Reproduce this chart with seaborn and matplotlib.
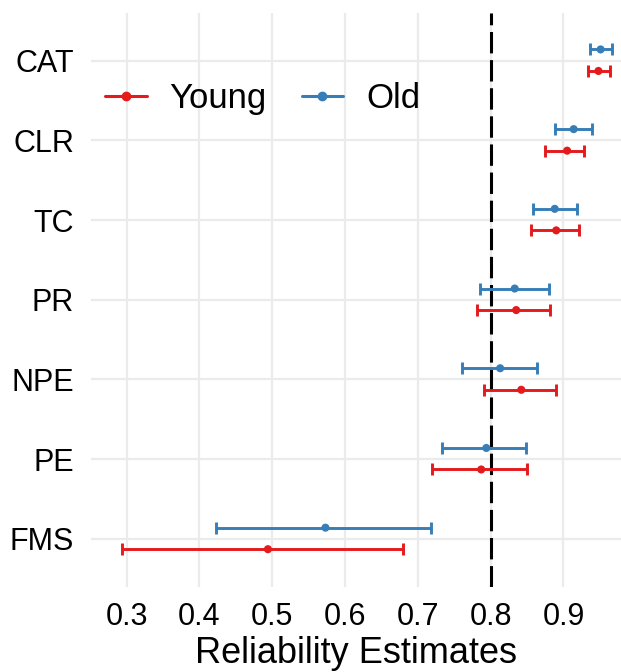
import matplotlib
matplotlib.use("Agg")
import matplotlib.pyplot as plt
from matplotlib.lines import Line2D
import seaborn as sns
import pandas as pd

categories = ["CAT", "CLR", "TC", "PR", "NPE", "PE", "FMS"]

young_est = [0.948, 0.905, 0.890, 0.835, 0.842, 0.787, 0.494]
young_low = [0.933, 0.875, 0.855, 0.781, 0.791, 0.720, 0.294]
young_high = [0.964, 0.928, 0.921, 0.881, 0.890, 0.850, 0.679]

old_est = [0.951, 0.914, 0.888, 0.833, 0.813, 0.794, 0.573]
old_low = [0.936, 0.889, 0.858, 0.785, 0.761, 0.733, 0.423]
old_high = [0.966, 0.939, 0.919, 0.880, 0.864, 0.848, 0.718]

groups = ["Young", "Old"]
threshold = 0.8
x_ticks = [0.3, 0.4, 0.5, 0.6, 0.7, 0.8, 0.9]

colors = {"Young": "#E41A1C", "Old": "#377EB8"}
offsets = {"Young": 0.13, "Old": -0.14}

rows = []
for g, est, lo, hi in [("Young", young_est, young_low, young_high),
                       ("Old", old_est, old_low, old_high)]:
    for i, c in enumerate(categories):
        rows.append({"measure": c, "group": g, "est": est[i], "low": lo[i],
                     "high": hi[i], "ypos": i + offsets[g]})
df = pd.DataFrame(rows)

sns.set_theme(style="whitegrid")
plt.rcParams["font.family"] = ["Liberation Sans", "DejaVu Sans"]

fig = plt.figure(figsize=(6.21, 6.72), dpi=100)
ax = fig.add_axes([0.146, 0.127, 0.854, 0.854])

for g in groups:
    sub = df[df["group"] == g]
    ax.errorbar(sub["est"], sub["ypos"],
                xerr=[sub["est"] - sub["low"], sub["high"] - sub["est"]],
                fmt="none", ecolor=colors[g], elinewidth=2.1, capsize=4,
                capthick=2.1, zorder=3)

sns.scatterplot(data=df, x="est", y="ypos", hue="group", palette=colors,
                hue_order=groups, s=34, edgecolor="none", legend=False,
                ax=ax, zorder=4)

ax.axvline(threshold, color="black", lw=2.2, dashes=(7, 2.2), zorder=2)

ax.set_xlim(0.2505, 0.979)
ax.set_ylim(len(categories) - 1 + 0.6, -0.6)
ax.set_yticks(range(len(categories)))
ax.set_yticklabels(categories)
ax.set_xticks(x_ticks)
ax.set_xticklabels([f"{t:.1f}" for t in x_ticks])

for s in ax.spines.values():
    s.set_visible(False)
ax.grid(True, color="#EBEBEB", lw=1.6)
ax.set_axisbelow(True)
ax.tick_params(axis="both", length=0, labelsize=22, colors="black")
ax.tick_params(axis="y", pad=12)
ax.tick_params(axis="x", pad=11)
ax.set_xlabel("Reliability Estimates", fontsize=26, labelpad=3, color="black")
ax.set_ylabel("")

handles = [Line2D([0], [0], color=colors[g], lw=2.2, marker="o", markersize=6)
           for g in groups]
leg = ax.legend(handles, groups, loc="center left", bbox_to_anchor=(0.027, 0.85),
                ncol=2, frameon=False, fontsize=25, handlelength=1.2,
                handletextpad=0.66, columnspacing=1.0, borderpad=0, borderaxespad=0)
for t in leg.get_texts():
    t.set_color("black")

fig.savefig("out.png", dpi=100)
